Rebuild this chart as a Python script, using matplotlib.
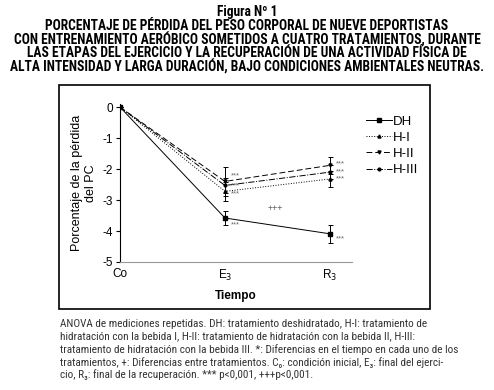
import matplotlib.pyplot as plt
from matplotlib.patches import Rectangle

etapas = ["Co", "E$_3$", "R$_3$"]
series = ["DH", "H-I", "H-II", "H-III"]
dh = [0, -3.58, -4.09]
h1 = [0, -2.72, -2.32]
h2 = [0, -2.40, -1.88]
h3 = [0, -2.53, -2.10]
err_dh = [0, 0.23, 0.30]
err_h1 = [0, 0.30, 0.26]
err_h2 = [0, 0.47, 0.27]
err_h3 = [0, 0.25, 0.22]

# significance marks (*** beside points, +++ between groups)
sig_e3 = [-2.23, -2.55, -2.81, -3.81]
sig_r3 = [-1.84, -2.10, -2.32, -4.26]
plus_pos = (1.48, -3.26)

titulo = ["Figura Nº 1",
          "PORCENTAJE DE PÉRDIDA DEL PESO CORPORAL DE NUEVE DEPORTISTAS",
          "CON ENTRENAMIENTO AERÓBICO SOMETIDOS A CUATRO TRATAMIENTOS, DURANTE",
          "LAS ETAPAS DEL EJERCICIO Y LA RECUPERACIÓN DE UNA ACTIVIDAD FÍSICA DE",
          "ALTA INTENSIDAD Y LARGA DURACIÓN, BAJO CONDICIONES AMBIENTALES NEUTRAS."]
nota = ["ANOVA de mediciones repetidas. DH: tratamiento deshidratado, H-I: tratamiento de",
        "hidratación con la bebida I, H-II: tratamiento de hidratación con la bebida II, H-III:",
        "tratamiento de hidratación con la bebida III. *: Diferencias en el tiempo en cada uno de los",
        "tratamientos, +: Diferencias entre tratamientos. C₀: condición inicial, E₃: final del ejerci-",
        "cio, R₃: final de la recuperación. *** p<0,001, +++p<0,001."]

plt.rcParams['font.family'] = ['Liberation Sans', 'DejaVu Sans']
plt.rcParams['axes.unicode_minus'] = False
narrow = ['Roboto Condensed', 'Archivo Narrow', 'Liberation Sans', 'DejaVu Sans']

fig = plt.figure(figsize=(4.94, 3.9), dpi=100)
rend = fig.canvas.get_renderer()


def ajustar(t, ancho):
    # scale font size so the text spans about `ancho` pixels
    w = t.get_window_extent(rend).width
    t.set_fontsize(t.get_fontsize() * ancho / w)


tt = []
for i, t in enumerate(titulo):
    tt.append(fig.text(0.5, 1 - (12 + 13.8 * i) / 390, t, ha='center', va='center',
                       family=narrow, fontweight='bold', fontsize=9))
ajustar(tt[-1], 477)
for t in tt[:-1]:
    t.set_fontsize(tt[-1].get_fontsize())

fig.patches.append(Rectangle((59 / 494, 1 - 309 / 390), 371 / 494, 224 / 390,
                             transform=fig.transFigure, fill=False, lw=1.2, ec='black'))

ax = fig.add_axes([120 / 494, 1 - 262 / 390, 232 / 494, 158 / 390])
x = [0, 1, 2]
estilos = [('-', 's', 3.2), (':', '^', 2.2), ((0, (6, 3)), 'v', 2.2), ('-.', 'o', 2.0)]
datos = [dh, h1, h2, h3]
errores = [err_dh, err_h1, err_h2, err_h3]
for nombre, y, e, (ls, mk, ms) in zip(series, datos, errores, estilos):
    ax.errorbar(x, y, yerr=e, ls='none', color='black',
                elinewidth=0.7, capsize=1.8, capthick=0.7)
    ax.plot(x, y, ls=ls, marker=mk, ms=ms, color='black', lw=0.7, label=nombre)

for v in sig_e3:
    ax.text(1.06, v, '***', fontsize=5.5, color='#666666', va='center')
for v in sig_r3:
    ax.text(2.06, v, '***', fontsize=5.5, color='#666666', va='center')
ax.text(plus_pos[0], plus_pos[1], '+++', fontsize=6.5, color='#555555', ha='center', va='center')

ax.set_xlim(0, 2.21)
ax.set_ylim(-5, 0.1)
ax.set_yticks([0, -1, -2, -3, -4, -5])
ax.set_xticks(x)
ax.set_xticklabels(etapas, fontsize=8.5)
ax.tick_params(axis='x', length=0, pad=4)
ax.tick_params(axis='y', length=3, width=0.8, labelsize=8.5, pad=2)
ax.spines['top'].set_visible(False)
ax.spines['right'].set_visible(False)
ax.spines['bottom'].set_color('#999999')
ax.spines['left'].set_linewidth(0.8)
ax.set_ylabel("Porcentaje de la pérdida\ndel PC", fontsize=9, labelpad=4)
ax.set_xlabel("Tiempo", fontsize=8.5, fontweight='bold', labelpad=5)

ax.legend(loc='upper left', bbox_to_anchor=(1.03, 0.97), frameon=False, fontsize=9.5,
          handlelength=2.0, handletextpad=0.1, labelspacing=0.3, borderpad=0)

tn = []
for i, t in enumerate(nota):
    tn.append(fig.text(60 / 494, 1 - (324 + 12.7 * i) / 390, t, ha='left', va='center',
                       family=narrow, fontsize=7, color='#333333'))
ajustar(tn[0], 370)
for t in tn[1:]:
    t.set_fontsize(tn[0].get_fontsize())

fig.savefig('out.png', dpi=100)
